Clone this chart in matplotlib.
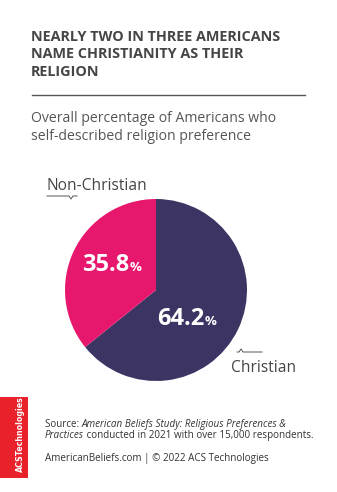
import matplotlib
matplotlib.use("Agg")
import numpy as np
import matplotlib.pyplot as plt
from matplotlib.patches import Rectangle

# Data
categories = ["Christian", "Non-Christian"]
shares = [64.2, 35.8]
colors = ["#3c3563", "#e8176e"]

title_lines = ["NEARLY TWO IN THREE AMERICANS", "NAME CHRISTIANITY AS THEIR", "RELIGION"]
subtitle_lines = ["Overall percentage of Americans who", "self-described religion preference"]

W, H = 337, 492
fig = plt.figure(figsize=(W / 100, H / 100), dpi=100)
fig.patch.set_facecolor("white")
plt.rcParams['font.family'] = ['Open Sans', 'DejaVu Sans']
renderer = fig.canvas.get_renderer()

# overlay in pixel coords
ov = fig.add_axes([0, 0, 1, 1])
ov.set_xlim(0, W)
ov.set_ylim(H, 0)
ov.axis("off")


def chain(x, y, parts, **kw):
    # draw text pieces one after another on the same line
    for s, extra in parts:
        t = ov.text(x, y, s, ha="left", **kw, **extra)
        bb = t.get_window_extent(renderer)
        x += bb.width * W / fig.bbox.width
    return x


for i, line in enumerate(title_lines):
    ov.text(31, 37 + i * 17.5, line, fontsize=10.4, fontweight="bold",
            color="#454545", va="center", ha="left")
ov.plot([32, 305], [95, 95], color="#555555", lw=1)
for i, line in enumerate(subtitle_lines):
    ov.text(31, 118 + i * 19, line, fontsize=10.1, color="#555555",
            va="center", ha="left")

# pie
cx, cy, r = 156, 290, 91
pax = fig.add_axes([(cx - r) / W, (H - cy - r) / H, 2 * r / W, 2 * r / H])
pax.pie(shares, colors=colors, startangle=90, counterclock=False,
        wedgeprops=dict(linewidth=0))
pax.set_xlim(-1, 1)
pax.set_ylim(-1, 1)
pax.set_zorder(1)
ov.set_zorder(2)

# value labels
label_left = {"Christian": (157, 325), "Non-Christian": (82, 271)}
for cat, val in zip(categories, shares):
    x, y = label_left[cat]
    chain(x, y, [(f"{val:.1f}", dict(fontsize=17, fontweight="bold")),
                 ("%", dict(fontsize=9.5, fontweight="bold"))],
          color="white", va="baseline")

# category callouts
ov.text(46, 186, "Non-Christian", fontsize=11.2, color="#454545",
        ha="left", va="center")
ov.plot([47, 69, 71, 73, 77], [196, 196, 199, 196, 196], color="#555555", lw=0.7)
ov.text(231, 368, "Christian", fontsize=11.2, color="#454545",
        ha="left", va="center")
ov.plot([237, 239, 241, 243, 262], [352, 352, 349, 352, 352], color="#555555", lw=0.7)

# footer
ov.add_patch(Rectangle((0, 397), 28, 81, color="#e8212b", lw=0))
ov.text(20, 434, "ACSTechnologies", rotation=90, fontsize=5.7, fontweight="bold",
        color="white", ha="center", va="center", family="Liberation Sans Narrow")

fs = 7.1
chain(45, 427, [("Source: ", {}),
                ("American Beliefs Study: Religious Preferences &", dict(style="italic"))],
      fontsize=fs, color="#333333", va="baseline")
chain(45, 438, [("Practices", dict(style="italic")),
                (" conducted in 2021 with over 15,000 respondents.", {})],
      fontsize=fs, color="#333333", va="baseline")
ov.text(45, 461, "AmericanBeliefs.com | \u00a9 2022 ACS Technologies", fontsize=fs,
        color="#333333", va="baseline", ha="left")

fig.savefig("out.png", dpi=100, facecolor="white")
